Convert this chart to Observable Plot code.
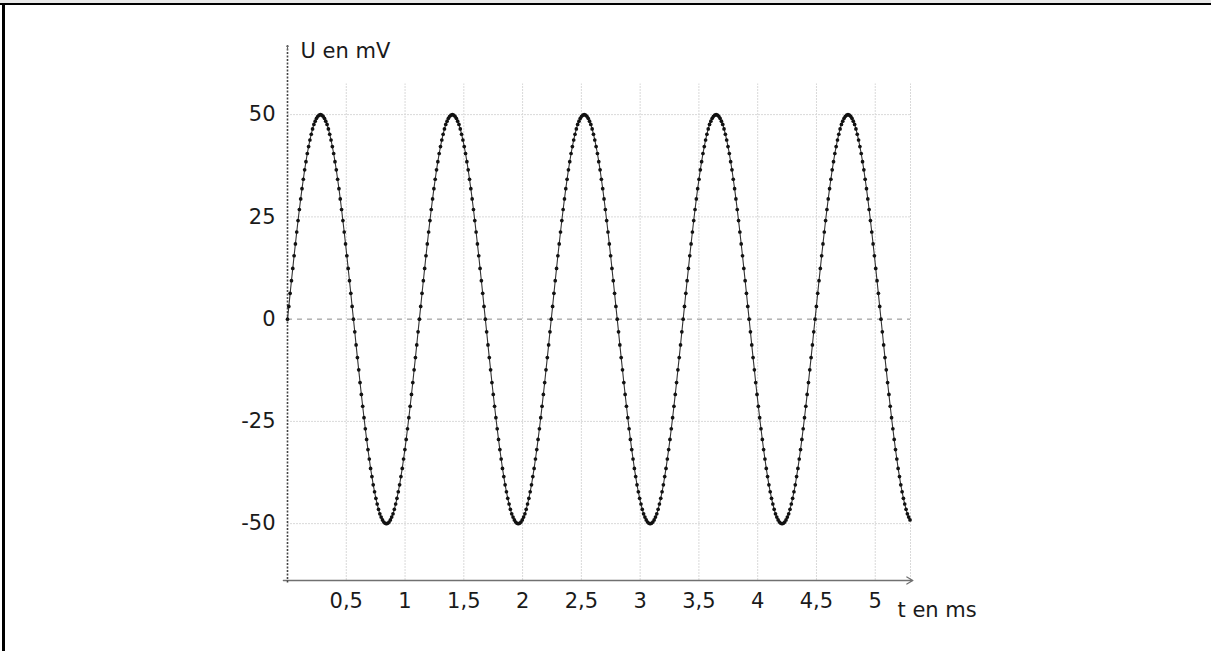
<!DOCTYPE html>
<html>
<head>
<meta charset="utf-8">
<script src="https://cdn.jsdelivr.net/npm/d3@7"></script>
<script src="https://cdn.jsdelivr.net/npm/@observablehq/plot@0.6"></script>
<style>
  html, body { margin: 0; padding: 0; background: #fff; }
  #page { position: relative; width: 1211px; height: 651px; overflow: hidden; background: #fff; }
  #strip { position: absolute; left: 0; top: 0; width: 1211px; height: 3px; background: #e8e8e8; }
  #topline { position: absolute; left: 0; top: 3px; width: 1211px; height: 2px; background: #000; }
  #leftline { position: absolute; left: 2px; top: 3px; width: 3px; height: 648px; background: #000; }
  #chart { position: absolute; left: 0; top: 0; }
</style>
</head>
<body>
<div id="page">
  <div id="strip"></div>
  <div id="topline"></div>
  <div id="leftline"></div>
  <div id="chart"></div>
</div>
<script>
// Sampling interval of the recorded points (ms)
const dt = 0.01122;
const U = [
  0,3.1,6.3,9.4,12.4,15.5,18.4,21.3,24.1,26.8,29.4,31.9,34.2,36.5,38.5,40.5,42.2,43.8,45.2,46.5,47.6,48.4,49.1,49.6,49.9,
  50,49.9,49.6,49.1,48.4,47.6,46.5,45.2,43.8,42.2,40.5,38.5,36.5,34.2,31.9,29.4,26.8,24.1,21.3,18.4,15.5,12.4,9.4,6.3,3.1,
  0,-3.1,-6.3,-9.4,-12.4,-15.5,-18.4,-21.3,-24.1,-26.8,-29.4,-31.9,-34.2,-36.5,-38.5,-40.5,-42.2,-43.8,-45.2,-46.5,-47.6,-48.4,-49.1,-49.6,-49.9,
  -50,-49.9,-49.6,-49.1,-48.4,-47.6,-46.5,-45.2,-43.8,-42.2,-40.5,-38.5,-36.5,-34.2,-31.9,-29.4,-26.8,-24.1,-21.3,-18.4,-15.5,-12.4,-9.4,-6.3,-3.1,
  0,3.1,6.3,9.4,12.4,15.5,18.4,21.3,24.1,26.8,29.4,31.9,34.2,36.5,38.5,40.5,42.2,43.8,45.2,46.5,47.6,48.4,49.1,49.6,49.9,
  50,49.9,49.6,49.1,48.4,47.6,46.5,45.2,43.8,42.2,40.5,38.5,36.5,34.2,31.9,29.4,26.8,24.1,21.3,18.4,15.5,12.4,9.4,6.3,3.1,
  0,-3.1,-6.3,-9.4,-12.4,-15.5,-18.4,-21.3,-24.1,-26.8,-29.4,-31.9,-34.2,-36.5,-38.5,-40.5,-42.2,-43.8,-45.2,-46.5,-47.6,-48.4,-49.1,-49.6,-49.9,
  -50,-49.9,-49.6,-49.1,-48.4,-47.6,-46.5,-45.2,-43.8,-42.2,-40.5,-38.5,-36.5,-34.2,-31.9,-29.4,-26.8,-24.1,-21.3,-18.4,-15.5,-12.4,-9.4,-6.3,-3.1,
  0,3.1,6.3,9.4,12.4,15.5,18.4,21.3,24.1,26.8,29.4,31.9,34.2,36.5,38.5,40.5,42.2,43.8,45.2,46.5,47.6,48.4,49.1,49.6,49.9,
  50,49.9,49.6,49.1,48.4,47.6,46.5,45.2,43.8,42.2,40.5,38.5,36.5,34.2,31.9,29.4,26.8,24.1,21.3,18.4,15.5,12.4,9.4,6.3,3.1,
  0,-3.1,-6.3,-9.4,-12.4,-15.5,-18.4,-21.3,-24.1,-26.8,-29.4,-31.9,-34.2,-36.5,-38.5,-40.5,-42.2,-43.8,-45.2,-46.5,-47.6,-48.4,-49.1,-49.6,-49.9,
  -50,-49.9,-49.6,-49.1,-48.4,-47.6,-46.5,-45.2,-43.8,-42.2,-40.5,-38.5,-36.5,-34.2,-31.9,-29.4,-26.8,-24.1,-21.3,-18.4,-15.5,-12.4,-9.4,-6.3,-3.1,
  0,3.1,6.3,9.4,12.4,15.5,18.4,21.3,24.1,26.8,29.4,31.9,34.2,36.5,38.5,40.5,42.2,43.8,45.2,46.5,47.6,48.4,49.1,49.6,49.9,
  50,49.9,49.6,49.1,48.4,47.6,46.5,45.2,43.8,42.2,40.5,38.5,36.5,34.2,31.9,29.4,26.8,24.1,21.3,18.4,15.5,12.4,9.4,6.3,3.1,
  0,-3.1,-6.3,-9.4,-12.4,-15.5,-18.4,-21.3,-24.1,-26.8,-29.4,-31.9,-34.2,-36.5,-38.5,-40.5,-42.2,-43.8,-45.2,-46.5,-47.6,-48.4,-49.1,-49.6,-49.9,
  -50,-49.9,-49.6,-49.1,-48.4,-47.6,-46.5,-45.2,-43.8,-42.2,-40.5,-38.5,-36.5,-34.2,-31.9,-29.4,-26.8,-24.1,-21.3,-18.4,-15.5,-12.4,-9.4,-6.3,-3.1,
  0,3.1,6.3,9.4,12.4,15.5,18.4,21.3,24.1,26.8,29.4,31.9,34.2,36.5,38.5,40.5,42.2,43.8,45.2,46.5,47.6,48.4,49.1,49.6,49.9,
  50,49.9,49.6,49.1,48.4,47.6,46.5,45.2,43.8,42.2,40.5,38.5,36.5,34.2,31.9,29.4,26.8,24.1,21.3,18.4,15.5,12.4,9.4,6.3,3.1,
  0,-3.1,-6.3,-9.4,-12.4,-15.5,-18.4,-21.3,-24.1,-26.8,-29.4,-31.9,-34.2,-36.5,-38.5,-40.5,-42.2,-43.8,-45.2,-46.5,-47.6,-48.4,-49.1
];
// Axis ticks and domains
const xTicks = [0.5, 1, 1.5, 2, 2.5, 3, 3.5, 4, 4.5, 5];
const yTicks = [-50, -25, 0, 25, 50];
const xDomain = [0, 5.3];
const yDomain = [-63.9, 66.9];
const gridTop = 57.5;
const xLabel = "t en ms";
const yLabel = "U en mV";

const data = U.map((u, i) => ({t: i * dt, u}));
const fmt = d => String(d).replace(".", ",");
const font = "'DejaVu Sans', sans-serif";

const chart = Plot.plot({
  width: 1211,
  height: 651,
  marginLeft: 287,
  marginRight: 301,
  marginTop: 45,
  marginBottom: 71,
  x: {domain: xDomain, axis: null},
  y: {domain: yDomain, axis: null},
  style: {fontFamily: font, fontSize: "21px", color: "#1a1a1a", background: "transparent", overflow: "visible"},
  marks: [
    // horizontal grid
    Plot.ruleY(yTicks.filter(d => d !== 0), {x1: xDomain[0], x2: xDomain[1], stroke: "#d9d9d9", strokeWidth: 1, strokeDasharray: "2,1"}),
    // zero line
    Plot.ruleY([0], {x1: xDomain[0], x2: xDomain[1], stroke: "#8a8a8a", strokeWidth: 1, strokeDasharray: "5,5"}),
    // vertical grid
    Plot.ruleX(xTicks.concat([xDomain[1]]), {y1: yDomain[0], y2: gridTop, stroke: "#d9d9d9", strokeWidth: 1, strokeDasharray: "2,1"}),
    // x axis with arrow
    Plot.arrow([xDomain], {x1: d => d[0] - 0.035, x2: d => d[1] + 0.02, y1: yDomain[0], y2: yDomain[0], stroke: "#707070", strokeWidth: 1.3, headLength: 8}),
    // y axis (dashed) and its arrow head
    Plot.ruleX([xDomain[0]], {y1: yDomain[0] - 0.6, y2: yDomain[1], stroke: "#444", strokeWidth: 1.6, strokeDasharray: "2,1.5"}),
    Plot.arrow([yDomain], {x1: xDomain[0], x2: xDomain[0], y1: d => d[1] - 1, y2: d => d[1], stroke: "#666", strokeWidth: 1, headLength: 7}),
    // signal
    Plot.line(data, {x: "t", y: "u", stroke: "#333", strokeWidth: 1.1}),
    Plot.dot(data, {x: "t", y: "u", r: 1.85, fill: "#111", stroke: "none"}),
    // tick labels
    Plot.text(xTicks, {x: d => d, frameAnchor: "bottom", dy: 27, text: fmt, fontSize: 21, fill: "#1a1a1a"}),
    Plot.text(yTicks, {y: d => d, frameAnchor: "left", dx: -12, textAnchor: "end", text: fmt, fontSize: 21, fill: "#1a1a1a"}),
    // axis titles
    Plot.text([yLabel], {frameAnchor: "top-left", dx: 13, dy: -2, textAnchor: "start", text: d => d, fontSize: 21, fill: "#1a1a1a"}),
    Plot.text([xLabel], {frameAnchor: "bottom-right", dx: -13, dy: 36, textAnchor: "start", text: d => d, fontSize: 21, fill: "#1a1a1a"})
  ]
});
document.getElementById("chart").appendChild(chart);
</script>
</body>
</html>
